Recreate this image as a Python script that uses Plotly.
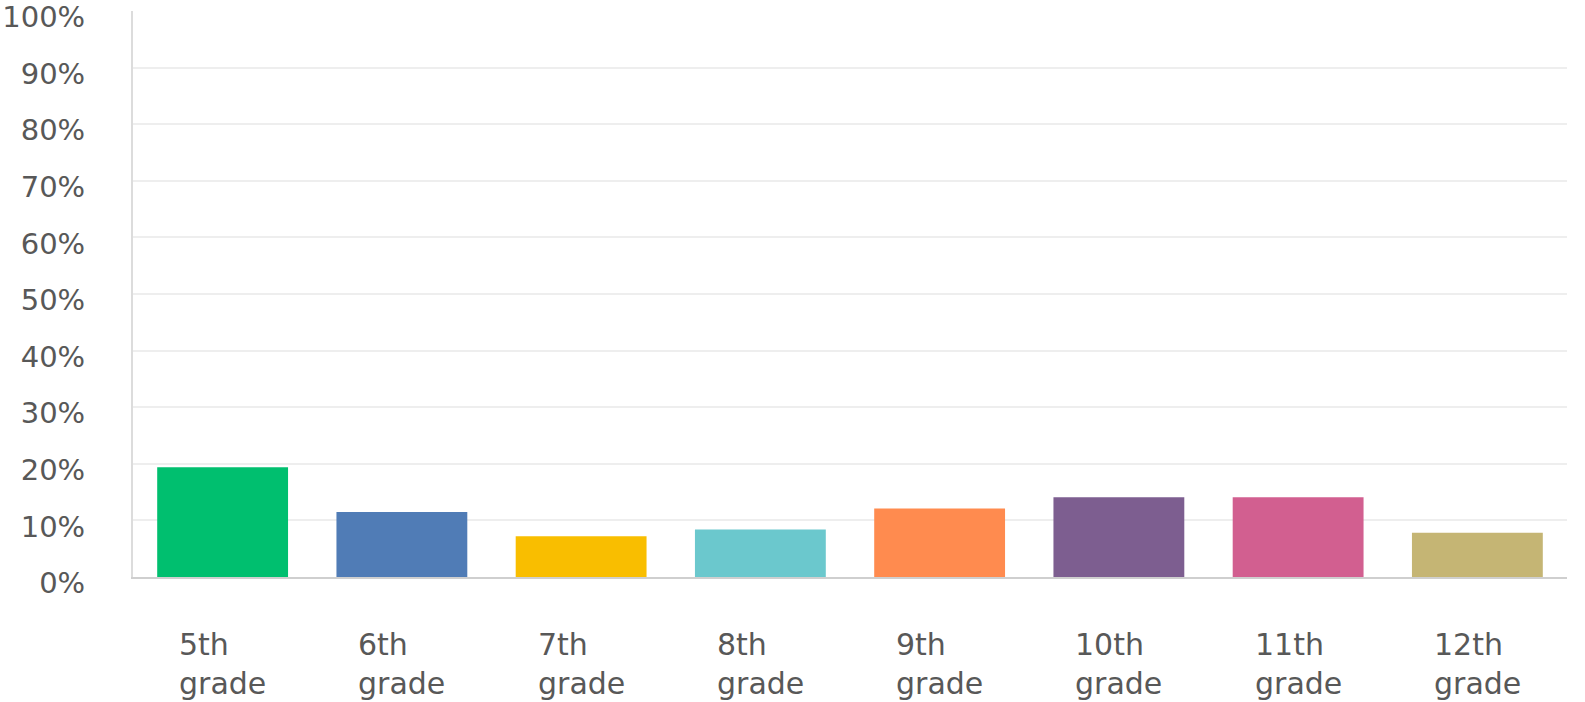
import plotly.graph_objects as go

categories = ["5th grade", "6th grade", "7th grade", "8th grade",
              "9th grade", "10th grade", "11th grade", "12th grade"]
label_text = ["5th<br>grade", "6th<br>grade", "7th<br>grade", "8th<br>grade",
              "9th<br>grade", "10th<br>grade", "11th<br>grade", "12th<br>grade"]
values = [19.4, 11.5, 7.2, 8.4, 12.1, 14.1, 14.1, 7.8]
colors = ["#00BF6F", "#507CB6", "#F9BE00", "#6BC8CD",
          "#FF8B4F", "#7D5E90", "#D25F90", "#C5B574"]
y_ticks = [0, 10, 20, 30, 40, 50, 60, 70, 80, 90, 100]
y_tick_labels = [f"{v}%" for v in y_ticks]

FONT = "DejaVu Sans"
TXT = "#585858"

fig = go.Figure()
fig.add_trace(go.Bar(
    x=categories, y=values,
    marker=dict(color=colors, line=dict(width=0)),
    hoverinfo="skip",
))

for cat, lab in zip(categories, label_text):
    fig.add_annotation(
        x=cat, xref="x", y=0, yref="paper",
        text=lab, showarrow=False, align="left",
        xanchor="center", yanchor="top", yshift=-48,
        font=dict(family=FONT, size=30, color=TXT),
    )

fig.update_layout(
    width=1585, height=702,
    margin=dict(l=133, r=18, t=11, b=125, autoexpand=False),
    paper_bgcolor="white", plot_bgcolor="white",
    showlegend=False,
    bargap=0.27,
    font=dict(family=FONT, size=29, color=TXT),
)
fig.update_xaxes(
    showticklabels=False, showgrid=False,
    showline=True, linecolor="#cfcfcf", linewidth=2,
    ticks="", automargin=False,
)
fig.update_yaxes(
    range=[0, 100], tickvals=y_ticks, ticktext=y_tick_labels,
    showgrid=True, gridcolor="#eeeeee", gridwidth=2,
    showline=True, linecolor="#dcdcdc", linewidth=2,
    zeroline=False, ticks="", ticklabelstandoff=40, ticklabelshift=6,
    ticklabeloverflow="allow",
    tickfont=dict(family=FONT, size=29, color=TXT),
    automargin=False,
)

fig.write_html(
    "out.html",
    config={"displayModeBar": False},
    post_script=(
        "document.documentElement.style.margin='0';"
        "document.documentElement.style.overflow='hidden';"
        "document.body.style.margin='0';"
        "document.body.style.overflow='hidden';"
    ),
)
